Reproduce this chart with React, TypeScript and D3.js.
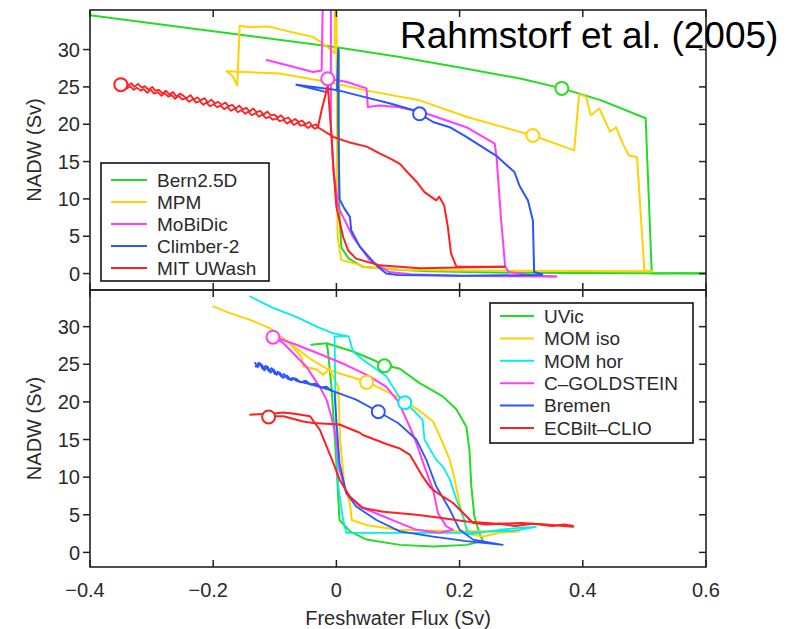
import React from "react";
import * as d3 from "d3";

type P = [number, number];

// ---------- axis ticks ----------
const X_TICKS = [-0.4, -0.2, 0, 0.2, 0.4, 0.6];
const X_TICK_LABELS = ["\u22120.4", "\u22120.2", "0", "0.2", "0.4", "0.6"];
const Y_TICKS = [0, 5, 10, 15, 20, 25, 30];
const Y_TICK_LABELS = ["0", "5", "10", "15", "20", "25", "30"];

// ---------- top panel series ----------
const TOP_NAMES = ["Bern2.5D", "MPM", "MoBiDic", "Climber-2", "MIT UWash"];
const TOP_COLORS = ["#22dd22", "#ffd200", "#ff3cff", "#2a55ff", "#ff2020"];

const bernOn: P[] = [[-0.4, 34.6], [-0.222, 32.7], [0, 30.3], [0.103, 29.0], [0.2, 27.6], [0.3, 26.1], [0.366, 24.8], [0.43, 23.2], [0.502, 20.8], [0.512, 0], [0.55, 0.05], [0.6, 0.05]];
const bernOff: P[] = [[0.6, 0], [0.3, 0.1], [0.15, 0.3], [0.1, 0.5], [0.043, 0.9], [0.02, 2.0], [0.008, 3.5], [0.005, 8], [0.004, 18], [0.004, 29.9]];

const mpmOn: P[] = [[-0.178, 27.1], [-0.092, 26.8], [-0.016, 25.7], [0.05, 24.5], [0.135, 23.2], [0.211, 21.0], [0.319, 18.5], [0.386, 16.5], [0.394, 24.0], [0.405, 23.7], [0.413, 21.2], [0.427, 22.1], [0.444, 19.0], [0.454, 19.6], [0.466, 17.2], [0.475, 15.8], [0.488, 15.6], [0.5, 0.4], [0.513, 0.3]];
const mpmLoop: P[] = [[-0.178, 27.1], [-0.168, 26.4], [-0.161, 25.2], [-0.157, 33.2], [-0.14, 33.0], [-0.11, 33.1], [-0.076, 32.4], [-0.038, 31.7], [-0.022, 30.8], [-0.01, 30.0], [-0.003, 29.5], [-0.002, 37]];
const mpmOff: P[] = [[0.513, 0.3], [0.4, 0.35], [0.2, 0.4], [0.1, 0.5], [0.05, 0.8], [0.032, 1.3], [0.008, 1.8], [0.002, 4.9], [0.001, 15], [0.0, 37]];

const mobiA: P[] = [[-0.113, 28.6], [-0.075, 27.8], [-0.038, 27.0], [-0.024, 27.2], [-0.022, 37]];
const mobiOn: P[] = [[-0.014, 26.1], [0.016, 25.7], [0.049, 24.8], [0.051, 22.3], [0.07, 22.5], [0.1, 22.3], [0.14, 21.6], [0.211, 19.6], [0.257, 17.4], [0.26, 15.6], [0.267, 7.6], [0.274, 0.9], [0.28, 0.2], [0.32, -0.3], [0.357, -0.4]];
const mobiOff: P[] = [[0.357, -0.4], [0.2, -0.3], [0.12, -0.1], [0.086, 0.2], [0.054, 1.8], [0.027, 4.9], [0.003, 8.9], [-0.005, 14], [-0.009, 20], [-0.009, 37]];

const climberOn: P[] = [[-0.016, 24.3], [-0.065, 25.3], [0, 24.6], [0.043, 23.7], [0.086, 22.8], [0.124, 21.9], [0.135, 21.4], [0.157, 20.3], [0.184, 19.6], [0.211, 18.3], [0.259, 15.8], [0.289, 13.6], [0.297, 11.8], [0.311, 9.8], [0.319, 7.1], [0.321, 0.2], [0.334, -0.1]];
const climberOff: P[] = [[0.334, -0.2], [0.2, -0.3], [0.1, -0.2], [0.081, 0], [0.065, 1.1], [0.038, 3.6], [0.024, 5.8], [0.022, 7.6], [0.013, 8.7], [0.005, 10.0], [0.003, 20], [0.003, 30.1], [0.001, 24.5]];

const mitNoisyA: P[] = [[-0.35, 25.4], [-0.344, 25.7], [-0.339, 25.2], [-0.333, 25.5], [-0.328, 25.0], [-0.322, 25.4], [-0.316, 24.9], [-0.311, 25.1], [-0.305, 24.6], [-0.299, 25.0], [-0.294, 24.5], [-0.288, 24.6], [-0.282, 24.1], [-0.277, 24.5], [-0.271, 24.0], [-0.265, 24.3], [-0.26, 23.7], [-0.254, 24.1], [-0.248, 23.8], [-0.243, 23.5], [-0.237, 23.9], [-0.231, 23.3], [-0.226, 23.6], [-0.22, 23.2], [-0.214, 23.5], [-0.209, 22.9], [-0.203, 23.3], [-0.197, 22.8], [-0.192, 23.0], [-0.186, 22.6], [-0.18, 22.9], [-0.175, 22.4], [-0.169, 22.6], [-0.163, 22.1], [-0.158, 22.5], [-0.152, 22.0], [-0.146, 22.2], [-0.141, 21.7], [-0.135, 22.1], [-0.129, 21.6], [-0.124, 21.8], [-0.118, 21.3], [-0.112, 21.7], [-0.107, 21.2], [-0.101, 21.3], [-0.095, 20.9], [-0.09, 21.2], [-0.084, 20.7], [-0.078, 20.9], [-0.073, 20.4], [-0.067, 20.7], [-0.061, 20.3], [-0.056, 20.5], [-0.05, 20.0], [-0.044, 20.3], [-0.039, 19.8], [-0.033, 20.0], [-0.03, 19.6]];
const mitNoisyB: P[] = [[-0.345, 25.1], [-0.34, 24.8], [-0.335, 25.1], [-0.329, 24.6], [-0.324, 24.9], [-0.318, 24.5], [-0.313, 24.7], [-0.307, 24.2], [-0.301, 24.6], [-0.296, 24.1], [-0.29, 24.3], [-0.284, 23.8], [-0.279, 24.2], [-0.273, 23.7], [-0.267, 23.9], [-0.262, 23.4], [-0.256, 23.8], [-0.25, 23.3], [-0.245, 23.5], [-0.239, 23.0], [-0.233, 23.4], [-0.228, 22.9], [-0.222, 23.1], [-0.216, 22.6], [-0.211, 22.9], [-0.205, 22.4], [-0.199, 22.7], [-0.194, 22.3], [-0.188, 22.5], [-0.182, 22.0], [-0.177, 22.3], [-0.171, 21.8], [-0.165, 22.1], [-0.16, 21.6], [-0.154, 21.9], [-0.148, 21.4], [-0.143, 21.7], [-0.137, 21.2], [-0.131, 21.5], [-0.126, 21.0], [-0.12, 21.3], [-0.114, 20.8], [-0.109, 21.0], [-0.103, 20.6], [-0.097, 20.8], [-0.092, 20.4], [-0.086, 20.6], [-0.08, 20.1], [-0.075, 20.4], [-0.069, 19.9], [-0.063, 20.2], [-0.058, 19.8], [-0.052, 19.9], [-0.046, 19.5], [-0.041, 19.8], [-0.035, 19.4], [-0.03, 19.6]];
const mitOn: P[] = [[-0.03, 19.6], [-0.005, 18.3], [0.02, 17.6], [0.049, 17.0], [0.07, 16.1], [0.09, 15.3], [0.103, 14.7], [0.115, 13.6], [0.13, 12.3], [0.143, 10.9], [0.155, 10.2], [0.162, 9.8], [0.167, 10.3], [0.175, 9.1], [0.181, 6.2], [0.186, 2.7], [0.195, 0.9], [0.273, 0.9]];
const mitOff: P[] = [[0.273, 0.9], [0.2, 0.8], [0.135, 0.7], [0.07, 1.1], [0.032, 2.0], [0.019, 3.1], [0.011, 4.9], [0, 8.9], [-0.005, 14.3], [-0.008, 18.5], [-0.014, 25.2], [-0.024, 21.9], [-0.03, 19.6]];

const TOP_SERIES: P[][][] = [
  [bernOn, bernOff],
  [mpmOn, mpmLoop, mpmOff],
  [mobiA, mobiOn, mobiOff],
  [climberOn, climberOff],
  [mitNoisyA, mitNoisyB, mitOn, mitOff],
];
const TOP_MARKERS: P[] = [[0.366, 24.8], [0.319, 18.5], [-0.014, 26.1], [0.135, 21.4], [-0.35, 25.3]];

// ---------- bottom panel series ----------
const BOT_NAMES = ["UVic", "MOM iso", "MOM hor", "C\u2013GOLDSTEIN", "Bremen", "ECBilt\u2013CLIO"];
const BOT_COLORS = ["#22dd22", "#ffd200", "#00eeee", "#ff3cff", "#2a55ff", "#ff2020"];

const uvic: P[] = [[-0.041, 27.6], [-0.016, 27.8], [0.027, 26.7], [0.059, 25.6], [0.078, 24.9], [0.103, 24.4], [0.135, 22.5], [0.146, 22.0], [0.173, 20.7], [0.195, 19.0], [0.211, 16.7], [0.216, 13.6], [0.219, 8.8], [0.224, 4.8], [0.232, 2.6], [0.238, 1.5], [0.211, 1.0], [0.157, 0.8], [0.103, 1.0], [0.049, 1.7], [0.022, 2.8], [0.005, 4.3], [0, 11.9], [-0.008, 22], [-0.014, 26.9], [-0.016, 27.8]];

const momIsoOn: P[] = [[-0.2, 32.7], [-0.173, 31.8], [-0.14, 30.9], [-0.108, 29.8], [-0.076, 27.8], [-0.04, 25.6], [-0.011, 24.2], [0.02, 23.4], [0.049, 22.7], [0.086, 21.2], [0.103, 20.5], [0.124, 19.4], [0.14, 18.5], [0.157, 17.4], [0.173, 14.5], [0.184, 12.3], [0.192, 9.7], [0.2, 6.5], [0.208, 3.9], [0.216, 2.4], [0.238, 2.1], [0.265, 2.6], [0.297, 2.8]];
const momIsoBox: P[] = [[-0.076, 27.8], [-0.057, 26.0], [-0.054, 24.7], [-0.032, 24.3], [-0.022, 23.6], [-0.011, 24.3]];
const momIsoOff: P[] = [[0.297, 2.8], [0.2, 2.8], [0.1, 3.0], [0.05, 3.6], [0.025, 4.3], [0.022, 6.5], [0.013, 8.8], [0.006, 15], [0.003, 22], [-0.011, 24.3]];

const momHor: P[] = [[-0.14, 34.0], [-0.103, 32.5], [-0.065, 31.3], [-0.032, 30.0], [-0.005, 29.1], [0.02, 28.7], [0.027, 26.7], [0.043, 25.6], [0.081, 23.4], [0.1, 20.9], [0.111, 20.0], [0.127, 18.7], [0.14, 17.6], [0.143, 15.0], [0.162, 12.3], [0.173, 11.4], [0.184, 9.7], [0.195, 7.0], [0.208, 4.3], [0.213, 2.4], [0.232, 2.6], [0.265, 3.0], [0.3, 3.3], [0.324, 3.4], [0.29, 2.9], [0.2, 2.6], [0.1, 2.6], [0.016, 2.6], [0.011, 4.3], [0.003, 8.8], [-0.001, 17.6], [-0.003, 28.7], [0.02, 28.7]];

const cgold: P[] = [[-0.103, 28.7], [-0.065, 27.6], [-0.022, 26.2], [0.016, 24.9], [0.054, 23.4], [0.081, 22.0], [0.1, 20.1], [0.119, 16.7], [0.13, 14.5], [0.143, 11.4], [0.157, 8.3], [0.165, 5.2], [0.178, 3.5], [0.189, 3.0], [0.168, 2.6], [0.13, 3.0], [0.103, 3.9], [0.076, 4.8], [0.038, 6.1], [0.016, 7.9], [0.005, 11.0], [0.0, 15.0], [-0.008, 18.0], [-0.016, 20.3], [-0.027, 22.0], [-0.049, 24.7], [-0.086, 27.8], [-0.103, 28.7]];

const bremen: P[] = [[-0.132, 25.2], [-0.128, 24.6], [-0.124, 25.1], [-0.12, 24.4], [-0.115, 24.8], [-0.11, 24.1], [-0.105, 24.5], [-0.1, 23.7], [-0.095, 24.0], [-0.09, 23.4], [-0.085, 23.7], [-0.078, 23.0], [-0.07, 23.2], [-0.065, 22.8], [-0.04, 22.3], [-0.011, 21.6], [0.032, 20.3], [0.068, 18.7], [0.1, 17.2], [0.13, 15.0], [0.146, 12.3], [0.162, 8.8], [0.184, 5.7], [0.2, 3.0], [0.222, 1.7], [0.27, 1.0], [0.211, 1.5], [0.157, 2.1], [0.103, 2.8], [0.065, 4.3], [0.032, 6.1], [0.016, 7.9], [0.005, 11.9], [0, 17.6], [-0.003, 21.2]];
const bremenNoise: P[] = [[-0.131, 24.7], [-0.126, 25.2], [-0.121, 24.9], [-0.117, 24.2], [-0.112, 24.7], [-0.107, 23.9], [-0.102, 24.3], [-0.097, 23.6], [-0.092, 23.9], [-0.087, 23.2], [-0.08, 23.5], [-0.074, 22.9], [-0.066, 23.1], [-0.058, 22.6], [-0.05, 22.8], [-0.042, 22.3], [-0.034, 22.4], [-0.025, 21.9], [-0.016, 22.0], [-0.008, 21.5]];

const ecOn: P[] = [[-0.14, 18.3], [-0.12, 18.4], [-0.111, 18.1], [-0.086, 18.1], [-0.054, 17.4], [-0.038, 17.2], [0.005, 17.0], [0.038, 15.9], [0.043, 15.6], [0.081, 14.4], [0.103, 13.8], [0.119, 13.0], [0.124, 12.3], [0.14, 10.1], [0.151, 8.8], [0.157, 8.3], [0.173, 7.4], [0.189, 6.6], [0.2, 5.7], [0.222, 3.9], [0.245, 3.7], [0.265, 3.8], [0.29, 3.5], [0.319, 3.8], [0.35, 3.5], [0.37, 3.7], [0.384, 3.5]];
const ecOff: P[] = [[0.384, 3.4], [0.34, 3.7], [0.3, 3.9], [0.26, 3.8], [0.211, 4.1], [0.168, 4.6], [0.13, 5.0], [0.103, 5.2], [0.076, 5.4], [0.043, 5.9], [0.022, 7.4], [0.005, 9.7], [-0.005, 11.9], [-0.016, 14.1], [-0.027, 16.3], [-0.043, 18.1], [-0.065, 18.4], [-0.086, 18.6], [-0.098, 18.5], [-0.111, 18.2]];

const BOT_SERIES: P[][][] = [
  [uvic],
  [momIsoOn, momIsoBox, momIsoOff],
  [momHor],
  [cgold],
  [bremen, bremenNoise],
  [ecOn, ecOff],
];
const BOT_MARKERS: P[] = [[0.078, 24.8], [0.049, 22.6], [0.111, 19.9], [-0.103, 28.6], [0.068, 18.7], [-0.11, 18.0]];

// ---------- layout ----------
const W = 798;
const H = 629;
const LEFT = 90;
const RIGHT = 706;
const FONT = "'Liberation Sans', Arial, Helvetica, sans-serif";
const TXT = "#2a2a2a";

const x = d3.scaleLinear().domain([-0.4, 0.6]).range([LEFT, RIGHT]);

type PanelProps = {
  id: string;
  top: number;
  bottom: number;
  yDomain: [number, number];
  series: P[][][];
  colors: string[];
  markers: P[];
  names: string[];
  legend: { x: number; y: number; w: number; h: number; first: number; step: number; lineX1: number; lineX2: number; textX: number };
};

function Panel(props: PanelProps) {
  const { id, top, bottom, yDomain, series, colors, markers, names, legend } = props;
  const y = d3.scaleLinear().domain(yDomain).range([bottom, top]);
  const line = d3.line<P>().x((d) => x(d[0])).y((d) => y(d[1]));
  const midY = (top + bottom) / 2;
  return (
    <g>
      <defs>
        <clipPath id={id}>
          <rect x={LEFT} y={top} width={RIGHT - LEFT} height={bottom - top} />
        </clipPath>
      </defs>
      <g clipPath={`url(#${id})`}>
        {series.map((parts, i) =>
          parts.map((pts, j) => (
            <path key={`${i}-${j}`} d={line(pts) || ""} fill="none" stroke={colors[i]} strokeWidth={pts.length > 30 ? 1.8 : 2} strokeLinejoin="round" strokeLinecap="round" />
          ))
        )}
        {markers.map((m, i) => (
          <circle key={i} cx={x(m[0])} cy={y(m[1])} r={6.5} fill="#fff" stroke={colors[i]} strokeWidth={2} />
        ))}
      </g>
      {Y_TICKS.map((t, i) => (
        <g key={t}>
          <line x1={LEFT - 7} x2={LEFT} y1={y(t)} y2={y(t)} stroke="#222" strokeWidth={1.5} />
          <line x1={RIGHT - 7} x2={RIGHT} y1={y(t)} y2={y(t)} stroke="#222" strokeWidth={1.5} />
          <text x={LEFT - 10} y={y(t)} dy="0.36em" textAnchor="end" fontSize={20} fill={TXT} fontFamily={FONT}>
            {Y_TICK_LABELS[i]}
          </text>
        </g>
      ))}
      {X_TICKS.map((t) => (
        <g key={t}>
          <line x1={x(t)} x2={x(t)} y1={top} y2={top + 7} stroke="#222" strokeWidth={1.5} />
          <line x1={x(t)} x2={x(t)} y1={bottom - 7} y2={bottom} stroke="#222" strokeWidth={1.5} />
        </g>
      ))}
      <rect x={LEFT} y={top} width={RIGHT - LEFT} height={bottom - top} fill="none" stroke="#222" strokeWidth={1.6} />
      <text transform={`translate(41,${midY}) rotate(-90)`} textAnchor="middle" fontSize={20} fill={TXT} fontFamily={FONT}>
        NADW (Sv)
      </text>
      <rect x={legend.x} y={legend.y} width={legend.w} height={legend.h} fill="#fff" stroke="#111" strokeWidth={1.6} />
      {names.map((n, i) => {
        const yy = legend.first + i * legend.step;
        return (
          <g key={n}>
            <line x1={legend.lineX1} x2={legend.lineX2} y1={yy} y2={yy} stroke={colors[i]} strokeWidth={2} />
            <text x={legend.textX} y={yy} dy="0.36em" fontSize={19} fill={TXT} fontFamily={FONT}>
              {n}
            </text>
          </g>
        );
      })}
    </g>
  );
}

export default function App() {
  return (
    <svg width={W} height={H} style={{ position: "absolute", left: 0, top: 0, background: "#fff" }}>
      <rect x={0} y={0} width={W} height={H} fill="#fff" />
      <Panel
        id="clipTop"
        top={10}
        bottom={290}
        yDomain={[-2.2, 35.3]}
        series={TOP_SERIES}
        colors={TOP_COLORS}
        markers={TOP_MARKERS}
        names={TOP_NAMES}
        legend={{ x: 101, y: 163, w: 168, h: 118, first: 180, step: 22, lineX1: 111, lineX2: 147, textX: 157 }}
      />
      <Panel
        id="clipBot"
        top={290}
        bottom={567}
        yDomain={[-1.94, 34.87]}
        series={BOT_SERIES}
        colors={BOT_COLORS}
        markers={BOT_MARKERS}
        names={BOT_NAMES}
        legend={{ x: 490, y: 303, w: 203, h: 140, first: 316, step: 22.4, lineX1: 500, lineX2: 534, textX: 544 }}
      />
      {X_TICKS.map((t, i) => (
        <text key={t} x={x(t) - (t < 0 ? 5 : 0)} y={597} textAnchor="middle" fontSize={20} fill={TXT} fontFamily={FONT}>
          {X_TICK_LABELS[i]}
        </text>
      ))}
      <text x={398} y={625} textAnchor="middle" fontSize={20} fill={TXT} fontFamily={FONT}>
        Freshwater Flux (Sv)
      </text>
      <text x={400} y={48} fontSize={37} fill="#000" fontFamily={FONT}>
        Rahmstorf et al. (2005)
      </text>
    </svg>
  );
}
